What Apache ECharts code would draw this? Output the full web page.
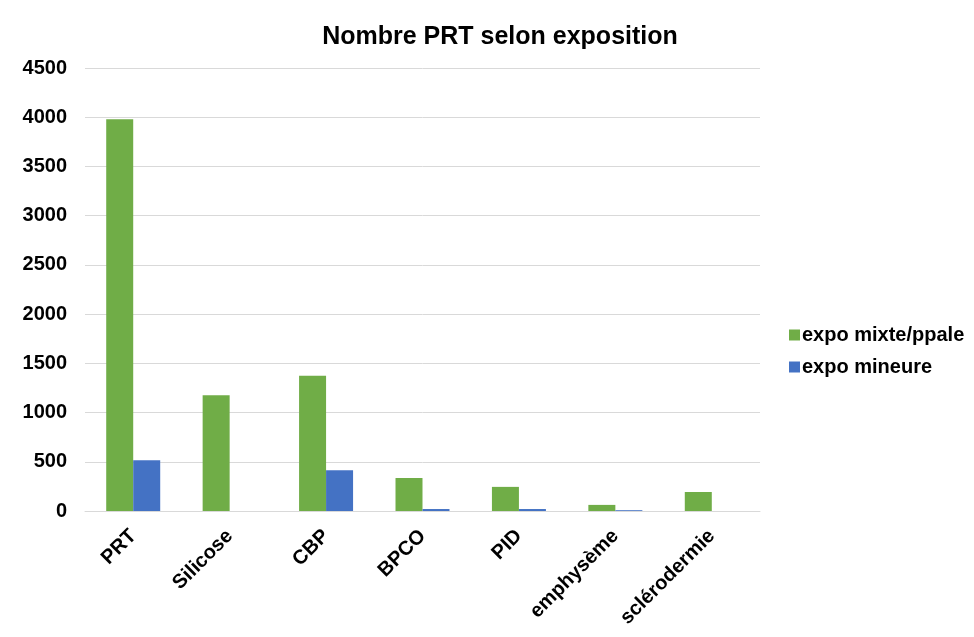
<!DOCTYPE html>
<html><head><meta charset="utf-8">
<script src="https://cdn.jsdelivr.net/npm/echarts@6/dist/echarts.min.js"></script>
<style>html,body{margin:0;padding:0;background:#fff}#c{width:974px;height:637px}</style>
</head><body><div id="c"></div>
<script>
const categories = ['PRT','Silicose','CBP','BPCO','PID','emphysème','sclérodermie'];
const expoMixte = [3980, 1175, 1375, 335, 245, 62, 193];
const expoMineure = [515, 0, 413, 20, 20, 8, 0];
const yTicks = [0, 500, 1000, 1500, 2000, 2500, 3000, 3500, 4000, 4500];

const font = 'Liberation Sans, Arial, sans-serif';
const chart = echarts.init(document.getElementById('c'));
chart.setOption({
  animation: false,
  title: {
    text: 'Nombre PRT selon exposition', left: 495, top: 20, textAlign: 'center',
    textStyle: {fontFamily: font, fontWeight: 'bold', fontSize: 25, color: '#000'}
  },
  legend: {
    orient: 'vertical', left: 784, top: 320, itemWidth: 11, itemHeight: 11, itemGap: 12,
    icon: 'rect',
    textStyle: {fontFamily: font, fontWeight: 'bold', fontSize: 20, color: '#000', padding: [0, 0, 0, -3]},
    data: ['expo mixte/ppale', 'expo mineure']
  },
  grid: {left: 85, right: 214, top: 68, bottom: 126, containLabel: false},
  xAxis: {
    type: 'category', data: categories,
    axisLine: {lineStyle: {color: '#d9d9d9'}},
    axisTick: {show: false},
    axisLabel: {rotate: 45, interval: 0, margin: 22, fontFamily: font, fontWeight: 'bold', fontSize: 20, color: '#000'}
  },
  yAxis: {
    type: 'value', min: yTicks[0], max: yTicks[yTicks.length - 1], interval: 500,
    axisLine: {show: false}, axisTick: {show: false},
    splitLine: {lineStyle: {color: '#d9d9d9', width: 1}},
    axisLabel: {margin: 18, fontFamily: font, fontWeight: 'bold', fontSize: 20, color: '#000',
      formatter: v => String(v)}
  },
  series: [
    {name: 'expo mixte/ppale', type: 'bar', data: expoMixte, barGap: '0%', barCategoryGap: '44%',
     itemStyle: {color: '#70AD47'}},
    {name: 'expo mineure', type: 'bar', data: expoMineure,
     itemStyle: {color: '#4472C4'}}
  ]
});
</script></body></html>
